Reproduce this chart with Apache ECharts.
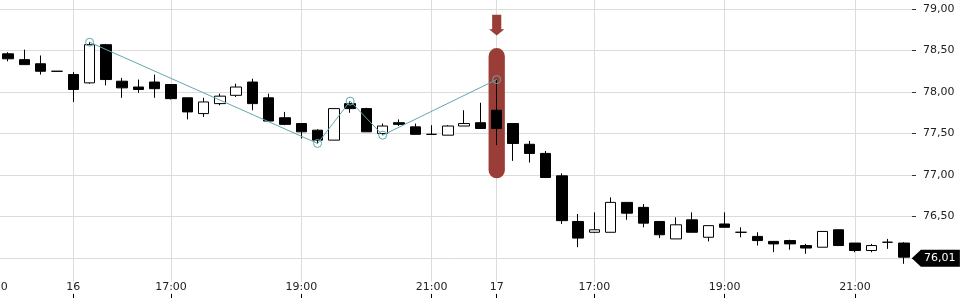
<!DOCTYPE html>
<html><head><meta charset="utf-8">
<script src="https://cdn.jsdelivr.net/npm/echarts@6/dist/echarts.min.js"></script>
<style>html,body{margin:0;padding:0;background:#fff}#c{width:960px;height:300px}</style>
</head><body><div id="c"></div>
<script>
// ---------- data ----------
const categories = [
  '15 21:00','15 21:15','15 21:30','15 21:45','15 22:00',
  '16 15:30','16 15:45','16 16:00','16 16:15','16 16:30','16 16:45','16 17:00','16 17:15','16 17:30','16 17:45',
  '16 18:00','16 18:15','16 18:30','16 18:45','16 19:00','16 19:15','16 19:30','16 19:45','16 20:00','16 20:15',
  '16 20:30','16 20:45','16 21:00','16 21:15','16 21:30','16 21:45',
  '17 15:30','17 15:45','17 16:00','17 16:15','17 16:30','17 16:45','17 17:00','17 17:15','17 17:30','17 17:45',
  '17 18:00','17 18:15','17 18:30','17 18:45','17 19:00','17 19:15','17 19:30','17 19:45','17 20:00','17 20:15',
  '17 20:30','17 20:45','17 21:00','17 21:15','17 21:30','17 21:45'
];
const openV  = ['-',78.46,78.39,78.34,78.25,78.21,78.11,78.57,78.13,78.06,78.12,78.09,77.93,77.74,77.86,77.96,78.12,77.93,77.69,77.62,77.54,77.42,77.86,77.80,77.50,77.63,77.58,77.49,77.48,77.59,77.63,77.78,77.62,77.37,77.26,76.99,76.44,76.31,76.31,76.67,76.61,76.44,76.23,76.46,76.25,76.41,76.31,76.26,76.20,76.21,76.15,76.13,76.34,76.18,76.09,76.19,76.18];
const closeV = ['-',78.40,78.33,78.25,78.25,78.03,78.57,78.15,78.05,78.03,78.04,77.92,77.76,77.88,77.95,78.06,77.86,77.65,77.61,77.52,77.42,77.80,77.80,77.52,77.59,77.61,77.49,77.49,77.59,77.62,77.56,77.56,77.38,77.26,76.97,76.45,76.24,76.34,76.67,76.54,76.42,76.28,76.40,76.31,76.39,76.37,76.31,76.21,76.17,76.17,76.12,76.32,76.15,76.09,76.15,76.19,76.01];
const lowV   = ['-',78.37,78.33,78.21,78.25,77.88,78.10,78.08,77.93,77.99,77.93,77.91,77.67,77.70,77.84,77.94,77.78,77.65,77.60,77.44,77.38,77.42,77.75,77.52,77.48,77.59,77.49,77.49,77.48,77.59,77.56,77.36,77.17,77.15,76.97,76.41,76.13,76.30,76.31,76.46,76.37,76.24,76.23,76.31,76.20,76.37,76.25,76.15,76.07,76.10,76.05,76.13,76.15,76.07,76.07,76.11,75.93];
const highV  = ['-',78.48,78.51,78.44,78.25,78.24,78.60,78.58,78.17,78.15,78.21,78.09,77.93,77.93,77.98,78.10,78.16,77.98,77.76,77.62,77.55,77.80,77.89,77.81,77.62,77.67,77.62,77.60,77.60,77.78,77.87,78.15,77.62,77.41,77.29,77.02,76.53,76.55,76.73,76.67,76.65,76.44,76.49,76.55,76.39,76.55,76.37,76.31,76.20,76.22,76.17,76.32,76.34,76.18,76.17,76.23,76.19];
// zigzag swing points (category index, price)
const zigIndex = [6, 20, 22, 24, 31];
const zigValue = [78.60, 77.38, 77.89, 77.48, 78.15];
// highlighted candle
const highlightIndex = 31;
const highlightRange = [78.53, 76.96];
const arrowRange = [78.93, 78.68];
// x tick labels
const tickIndex = [0, 5, 11, 19, 27, 31, 37, 45, 53];
const tickText  = ['21:00', '16', '17:00', '19:00', '21:00', '17', '17:00', '19:00', '21:00'];
// y axis
const yMin = 76, yMax = 79, yStep = 0.5;

// ---------- build ----------
const fmt = v => Number(v).toFixed(2).replace('.', ',');
const ohlc = categories.map((c, i) => [openV[i], closeV[i], lowV[i], highV[i]]);
const zig = categories.map((c, i) => { const k = zigIndex.indexOf(i); return k >= 0 ? zigValue[k] : '-'; });
const last = categories.length - 1;
const isTick = i => tickIndex.indexOf(i) >= 0;

const W = 912 / (categories.length - 1);
const RED = '#9b3d37';
const TEAL = '#62a8ae';
const GRID = '#dcdcdc';
const FONT = 'DejaVu Sans';

const chart = echarts.init(document.getElementById('c'), null, {renderer: 'canvas'});
chart.setOption({
  animation: false,
  backgroundColor: '#fff',
  textStyle: {fontFamily: FONT},
  grid: [
    {left: -W / 2, right: 48 + W / 2, top: 0, bottom: 2, containLabel: false, outerBoundsMode: 'none'},
    {left: -W, right: 48, top: 9, bottom: 42, containLabel: false, outerBoundsMode: 'none'}
  ],
  xAxis: [
    {
      gridIndex: 0, type: 'category', data: categories, boundaryGap: false,
      axisLine: {show: false},
      axisTick: {show: true, inside: true, length: 4, interval: isTick, lineStyle: {color: '#000'}},
      axisLabel: {inside: true, margin: 5, interval: isTick, color: '#222', fontSize: 11, fontFamily: FONT,
        backgroundColor: '#fff',
        formatter: (v, i) => tickText[tickIndex.indexOf(i)]},
      splitLine: {show: true, interval: isTick, lineStyle: {color: GRID, width: 1}}
    },
    {gridIndex: 1, type: 'category', data: categories, boundaryGap: true, show: false}
  ],
  yAxis: [
    {gridIndex: 0, type: 'value', show: false, splitLine: {show: false}},
    {
      gridIndex: 1, type: 'value', position: 'right', min: yMin, max: yMax, interval: yStep,
      axisLine: {show: false},
      axisTick: {show: true, length: 4, lineStyle: {color: '#333'}},
      axisLabel: {margin: 11, color: '#222', fontSize: 11, fontFamily: FONT, formatter: v => fmt(v)},
      splitLine: {show: true, lineStyle: {color: GRID, width: 1}}
    }
  ],
  series: [
    {
      type: 'custom', xAxisIndex: 1, yAxisIndex: 1, z: 1, silent: true,
      data: [[highlightIndex, highlightRange[0], highlightRange[1]]],
      encode: {x: 0, y: [1, 2]},
      renderItem: (params, api) => {
        const x = api.value(0);
        const p1 = api.coord([x, api.value(1)]);
        const p2 = api.coord([x, api.value(2)]);
        const w = api.size([1, 0])[0];
        return {type: 'rect', shape: {x: p1[0] - w / 2, y: p1[1], width: w, height: p2[1] - p1[1], r: w / 2},
          style: {fill: RED}};
      }
    },
    {
      type: 'candlestick', xAxisIndex: 1, yAxisIndex: 1, z: 2, clip: false,
      barWidth: 11,
      data: ohlc,
      itemStyle: {color: '#fff', color0: '#000', borderColor: '#000', borderColor0: '#000', borderColorDoji: '#000', borderWidth: 1},
      markPoint: {
        silent: true, animation: false,
        symbol: 'path://M0,8.5L9,0L48,0L48,17L9,17Z',
        symbolSize: [48, 17], symbolOffset: [32, 1], symbolKeepAspect: false,
        itemStyle: {color: '#000'},
        label: {show: true, position: 'inside', offset: [4, 0], color: '#fff', fontSize: 11, fontFamily: FONT,
          formatter: p => fmt(p.value)},
        data: [{coord: [categories[last], closeV[last]], value: closeV[last]}]
      }
    },
    {
      type: 'line', xAxisIndex: 1, yAxisIndex: 1, z: 3, silent: true,
      data: zig, connectNulls: true, showAllSymbol: true,
      symbol: 'circle', symbolSize: 8,
      itemStyle: {color: 'rgba(0,0,0,0)', borderColor: TEAL, borderWidth: 1},
      lineStyle: {color: TEAL, width: 1}
    },
    {
      type: 'custom', xAxisIndex: 1, yAxisIndex: 1, z: 4, silent: true,
      data: [[highlightIndex, arrowRange[0], arrowRange[1]]],
      encode: {x: 0, y: [1, 2]},
      renderItem: (params, api) => {
        const x = api.value(0);
        const t = api.coord([x, api.value(1)]);
        const b = api.coord([x, api.value(2)]);
        const w = api.size([1, 0])[0];
        const cx = t[0], sw = w * 0.28, hw = w * 0.47;
        const yh = t[1] + (b[1] - t[1]) * 0.7;
        return {type: 'polygon', shape: {points: [
          [cx - sw, t[1]], [cx + sw, t[1]], [cx + sw, yh], [cx + hw, yh], [cx, b[1]], [cx - hw, yh], [cx - sw, yh]
        ]}, style: {fill: RED}};
      }
    }
  ]
});
</script>
</body></html>
